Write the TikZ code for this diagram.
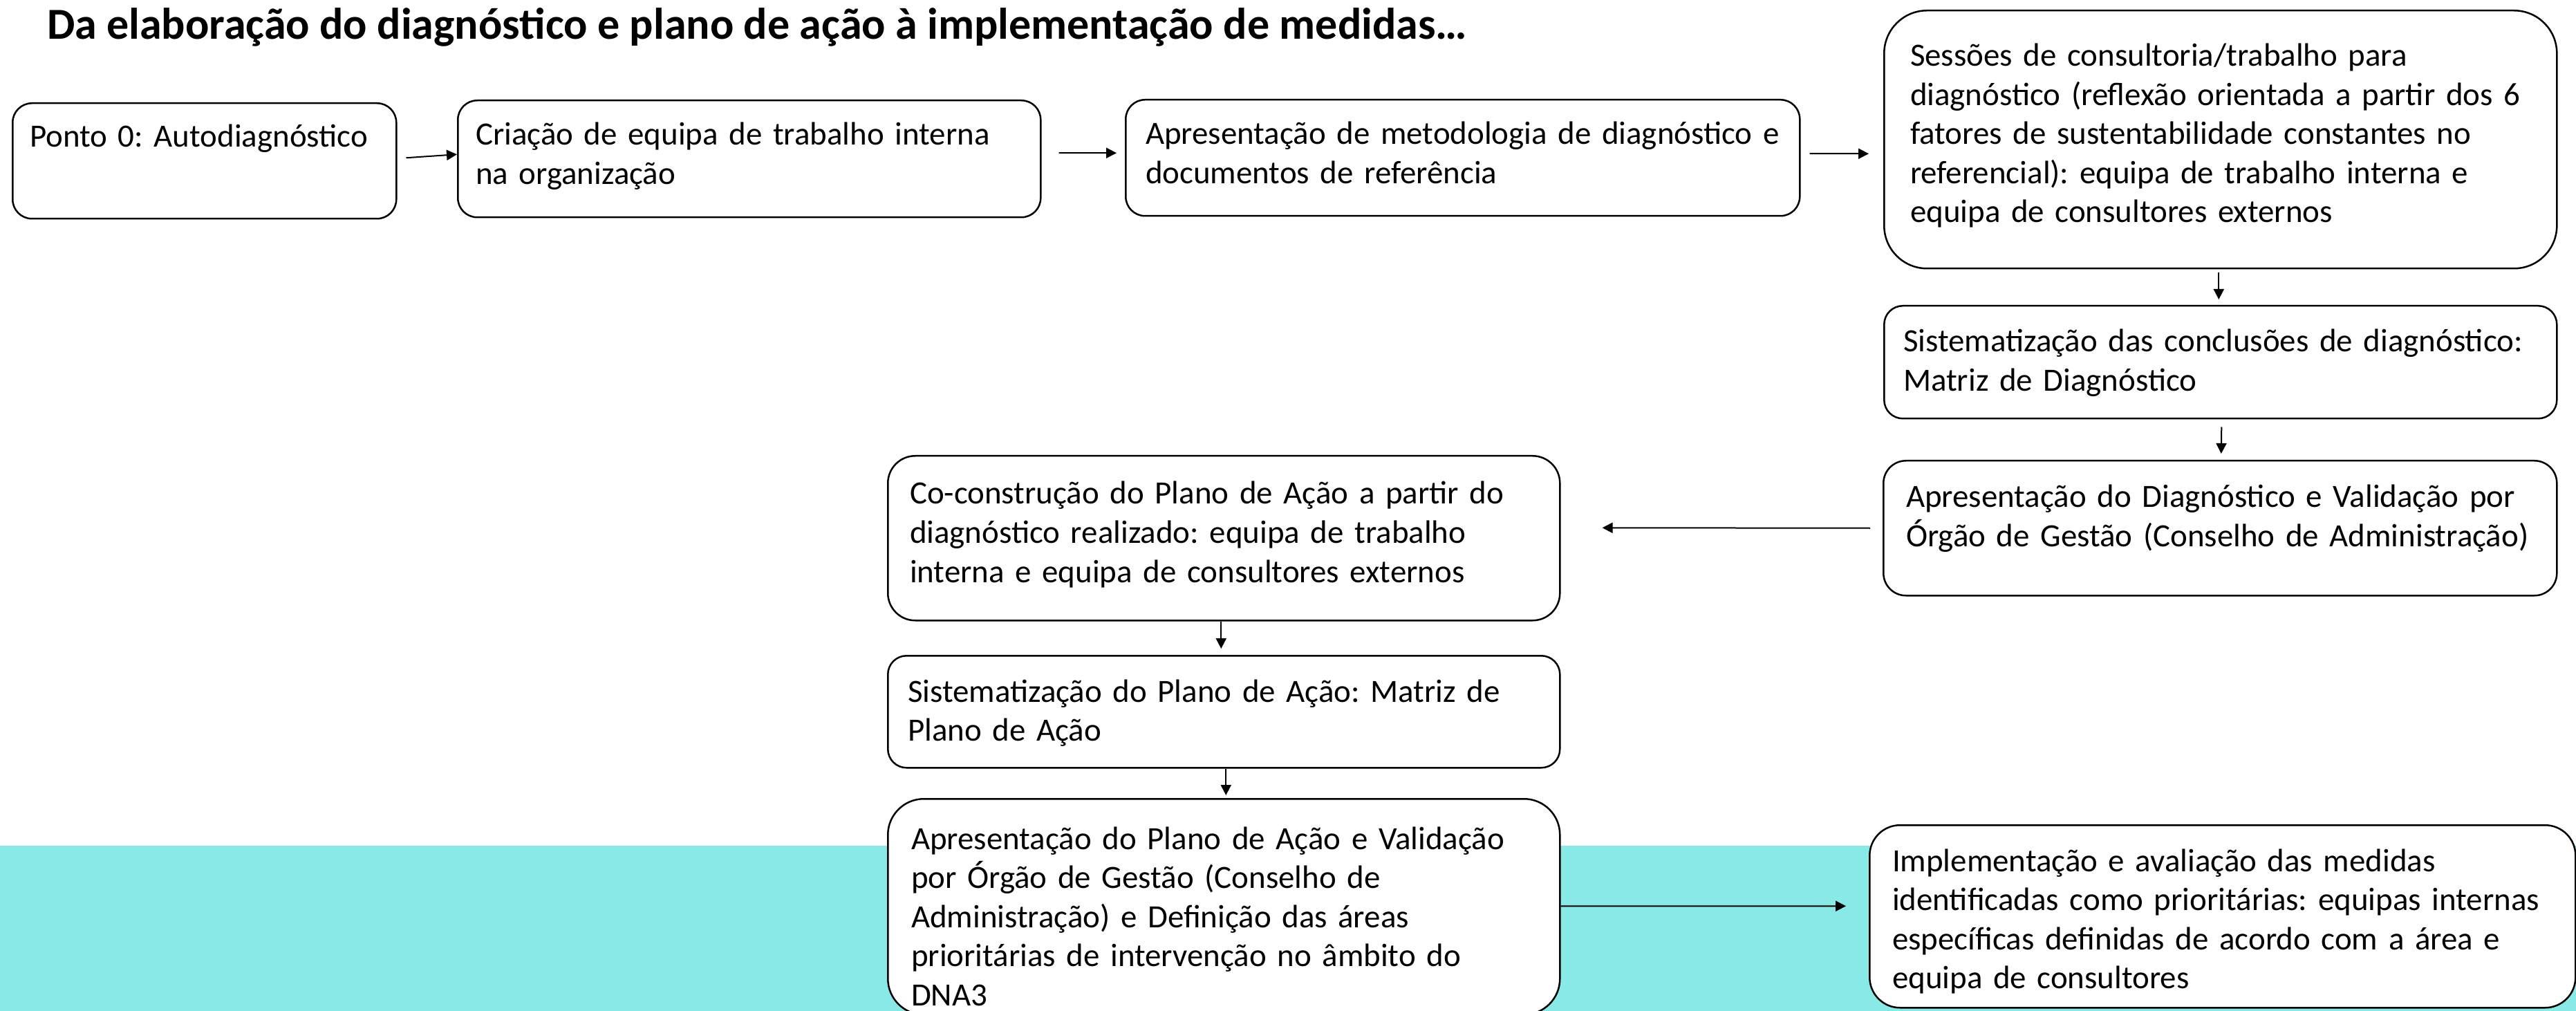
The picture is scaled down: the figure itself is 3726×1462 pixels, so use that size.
\documentclass[tikz,border=0pt]{standalone}
\usepackage{fontspec}
\setmainfont{Carlito}
\usetikzlibrary{arrows.meta}
\definecolor{band}{RGB}{137,233,231}
\tikzset{
  box/.style={draw=black, line width=0.5pt, fill=white, inner sep=0pt, anchor=north west},
  txt/.style={anchor=base west, inner sep=0pt, text width=205pt, align=left,
    font=\fontsize{9.38}{11.3}\selectfont\frenchspacing},
  conn/.style={line width=0.4pt, -{Triangle[length=3pt,width=3pt]}}
}
\begin{document}
\frenchspacing
\begin{tikzpicture}[x=0.2pt,y=-0.2pt]
\clip (0,0) rectangle (3726,1462);
\fill[white] (0,0) rectangle (3726,1462);
\fill[band] (0,1223) rectangle (3726,1462);

\node[anchor=base west, inner sep=0pt, font=\fontsize{12.8}{15}\selectfont\bfseries] (title) at (67,57)
  {Da elaboração do diagnóstico e plano de ação à implementação de medidas…};

% boxes
\node[box, minimum width=111pt, minimum height=33.4pt, rounded corners=5.6pt] (a) at (17,148) {};
\node[box, minimum width=168.6pt, minimum height=33.8pt, rounded corners=5.6pt] (b) at (661,144) {};
\node[box, minimum width=195pt, minimum height=33.6pt, rounded corners=5.6pt] (c) at (1627,143) {};
\node[box, minimum width=194.6pt, minimum height=74.6pt, rounded corners=12.4pt] (d) at (2724,14) {};
\node[box, minimum width=194.6pt, minimum height=32.6pt, rounded corners=5.4pt] (e) at (2724,441) {};
\node[box, minimum width=194.8pt, minimum height=39pt, rounded corners=6.5pt] (f) at (2723,665) {};
\node[box, minimum width=194.4pt, minimum height=47.6pt, rounded corners=7.9pt] (g) at (1283,658) {};
\node[box, minimum width=194.4pt, minimum height=32.4pt, rounded corners=5.4pt] (h) at (1283,947) {};
\node[box, minimum width=194.4pt, minimum height=62.4pt, rounded corners=10.4pt] (i) at (1283,1154) {};
\node[box, minimum width=204.2pt, minimum height=52.8pt, rounded corners=8.8pt] (j) at (2703,1192) {};

% texts
\node[txt] (ta) at ([xshift=5pt,yshift=-13pt]a.north west) {Ponto 0: Autodiagnóstico};
\node[txt] (tb) at ([xshift=5.2pt,yshift=-13.2pt]b.north west) {Criação de equipa de trabalho interna\\na organização};
\node[txt] (tc) at ([xshift=5.8pt,yshift=-13.2pt]c.north west) {Apresentação de metodologia de diagnóstico e\\documentos de referência};
\node[txt] (td) at ([xshift=7.6pt,yshift=-16.4pt]d.north west) {Sessões de consultoria/trabalho para\\diagnóstico (reflexão orientada a partir dos 6\\fatores de sustentabilidade constantes no\\referencial): equipa de trabalho interna e\\equipa de consultores externos};
\node[txt] (te) at ([xshift=5.6pt,yshift=-13.6pt]e.north west) {Sistematização das conclusões de diagnóstico:\\Matriz de Diagnóstico};
\node[txt] (tf) at ([xshift=6.6pt,yshift=-13.8pt]f.north west) {Apresentação do Diagnóstico e Validação por\\Órgão de Gestão (Conselho de Administração)};
\node[txt] (tg) at ([xshift=6.4pt,yshift=-14.2pt]g.north west) {Co-construção do Plano de Ação a partir do\\diagnóstico realizado: equipa de trabalho\\interna e equipa de consultores externos};
\node[txt] (th) at ([xshift=5.8pt,yshift=-13.6pt]h.north west) {Sistematização do Plano de Ação: Matriz de\\Plano de Ação};
\node[txt] (ti) at ([xshift=6.8pt,yshift=-14.8pt]i.north west) {Apresentação do Plano de Ação e Validação\\por Órgão de Gestão (Conselho de\\Administração) e Definição das áreas\\prioritárias de intervenção no âmbito do\\DNA3};
\node[txt] (tj) at ([xshift=6.6pt,yshift=-13.6pt]j.north west) {Implementação e avaliação das medidas\\identificadas como prioritárias: equipas internas\\específicas definidas de acordo com a área e\\equipa de consultores};

% connectors
\draw[conn] ([xshift=2.6pt,yshift=0.9pt]a.east) -- ([yshift=1.3pt]b.west);
\draw[conn] ([xshift=5pt,yshift=1.7pt]b.east) -- ([xshift=-2.4pt,yshift=1.4pt]c.west);
\draw[conn] ([xshift=2.6pt,yshift=1.2pt]c.east) -- ([xshift=-4.2pt,yshift=-4.1pt]d.west);
\draw[conn] ([xshift=-0.5pt,yshift=-1pt]d.south) -- ([xshift=-0.5pt,yshift=1.6pt]e.north);
\draw[conn] ([xshift=0.3pt,yshift=-2.2pt]e.south) -- ([xshift=0.3pt,yshift=1.8pt]f.north);
\draw[conn] ([xshift=-3.6pt]f.west) -- ([xshift=12pt,yshift=3pt]g.east);
\draw[conn] ([xshift=-0.8pt]g.south) -- ([xshift=-0.8pt,yshift=1.8pt]h.north);
\draw[conn] ([xshift=0.6pt]h.south) -- ([xshift=0.6pt,yshift=0.8pt]i.north);
\draw[conn] ([yshift=0.2pt]i.east) -- ([xshift=-6.6pt,yshift=3pt]j.west);
\end{tikzpicture}
\end{document}
